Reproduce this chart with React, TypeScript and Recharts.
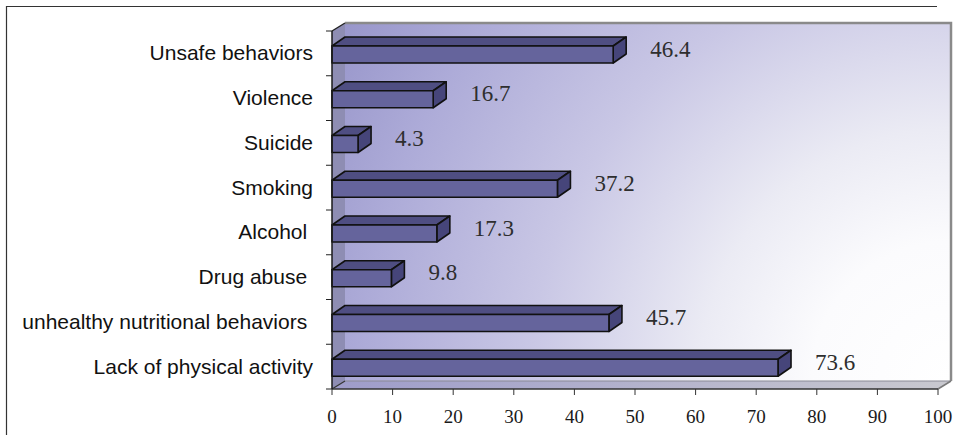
import React from "react";
import { BarChart, Bar, XAxis, YAxis, LabelList } from "recharts";

// Share of respondents per risk behaviour (%)
const categories = [
  "Unsafe behaviors",
  "Violence",
  "Suicide",
  "Smoking",
  "Alcohol ",
  "Drug abuse ",
  "unhealthy nutritional behaviors ",
  "Lack of physical activity",
];
const percentages = [46.4, 16.7, 4.3, 37.2, 17.3, 9.8, 45.7, 73.6];
const xTicks = [0, 10, 20, 30, 40, 50, 60, 70, 80, 90, 100];

const data = categories.map((name, i) => ({ name, value: percentages[i] }));

const W = 960;
const H = 435;
// plot box of the chart (front plane), derived from the margins below
const MARGIN = { top: 31, right: 22, bottom: 16, left: 0 };
const Y_AXIS_W = 332;
const X_AXIS_H = 30;
const PLOT = {
  left: MARGIN.left + Y_AXIS_W,
  top: MARGIN.top,
  right: W - MARGIN.right,
  bottom: H - MARGIN.bottom - X_AXIS_H,
};
const WALL = { dx: 13, dy: 8 };
const BAR_DEPTH = { dx: 13, dy: 9 };

const SANS = "'Liberation Sans', Arial, sans-serif";
const SERIF = "'Liberation Serif', 'Times New Roman', serif";

const Bar3D = (props: any) => {
  const { x, y, width, height } = props;
  if (!width || width <= 0) return null;
  const { dx, dy } = BAR_DEPTH;
  const top = y + 1;
  const x2 = x + width;
  return (
    <g stroke="#111" strokeWidth={1.6} strokeLinejoin="round">
      <polygon
        points={`${x},${top} ${x + dx},${top - dy} ${x2 + dx},${top - dy} ${x2},${top}`}
        fill="#4f4e82"
      />
      <polygon
        points={`${x2},${top} ${x2 + dx},${top - dy} ${x2 + dx},${top + height - dy} ${x2},${top + height}`}
        fill="#46457a"
      />
      <rect x={x} y={top} width={width} height={height} fill="#65649c" />
    </g>
  );
};

const ValueLabel = (props: any) => {
  const { x, y, width, height, value } = props;
  return (
    <text
      x={x + width + 37}
      y={y + height / 2 + 3}
      fontFamily={SERIF}
      fontSize={23}
      fill="#2e2e2e"
      textAnchor="start"
    >
      {value}
    </text>
  );
};

const CategoryTick = (props: any) => {
  const { y, payload, index } = props;
  const band = (PLOT.bottom - PLOT.top) / categories.length;
  const last = index === categories.length - 1;
  return (
    <g>
      <line x1={PLOT.left - 6} x2={PLOT.left} y1={y - band / 2} y2={y - band / 2} stroke="#222" />
      {last && (
        <line x1={PLOT.left - 6} x2={PLOT.left} y1={y + band / 2} y2={y + band / 2} stroke="#222" />
      )}
      <text
        x={PLOT.left - 19}
        y={y + 7}
        textAnchor="end"
        fontFamily={SANS}
        fontSize={21}
        fill="#111"
        style={{ whiteSpace: "pre" }}
      >
        {payload.value}
      </text>
    </g>
  );
};

const ValueTick = (props: any) => {
  const { x, payload } = props;
  return (
    <text x={x} y={PLOT.bottom + 34} textAnchor="middle" fontFamily={SERIF} fontSize={19} fill="#1a1a1a">
      {payload.value}
    </text>
  );
};

// walls, floor and frame behind the bars
const Backdrop = () => {
  const { left, top, right, bottom } = PLOT;
  const { dx, dy } = WALL;
  const bl = left + dx;
  const bt = top - dy;
  const br = right + dx;
  const bb = bottom - dy;
  return (
    <svg width={W} height={H} style={{ position: "absolute", left: 0, top: 0 }}>
      <defs>
        <radialGradient id="wallFill" gradientUnits="userSpaceOnUse" cx={br} cy={bb} r={700}>
          <stop offset="0" stopColor="#ffffff" />
          <stop offset="0.2" stopColor="#fbfbfd" />
          <stop offset="0.36" stopColor="#ebebf4" />
          <stop offset="0.6" stopColor="#c9c7e5" />
          <stop offset="0.84" stopColor="#adabd8" />
          <stop offset="1" stopColor="#9997cb" />
        </radialGradient>
        <linearGradient id="floorFill" x1="0" y1="0" x2="1" y2="0">
          <stop offset="0" stopColor="#9e9cca" />
          <stop offset="1" stopColor="#c9c9cf" />
        </linearGradient>
      </defs>
      <line x1={6.5} y1={6} x2={6.5} y2={H} stroke="#333" strokeWidth={1.2} />
      <line x1={6} y1={6.5} x2={937} y2={6.5} stroke="#333" strokeWidth={1.2} />

      <rect x={bl} y={bt} width={br - bl} height={bb - bt} fill="url(#wallFill)" />
      <polyline points={`${bl},${bt} ${br},${bt} ${br},${bb}`} fill="none" stroke="#8a8a8a" strokeWidth={2.5} />

      <polygon points={`${left},${top} ${bl},${bt} ${bl},${bb} ${left},${bottom}`} fill="#8e8db3" />
      <line x1={left} y1={top} x2={bl} y2={bt} stroke="#222" strokeWidth={1.4} />

      <polygon points={`${left},${bottom} ${bl},${bb} ${br},${bb} ${right},${bottom}`} fill="url(#floorFill)" />
      <line x1={bl} y1={bb} x2={br} y2={bb} stroke="#8a8a95" strokeWidth={1} />
      <line x1={left} y1={bottom} x2={bl} y2={bb} stroke="#333" strokeWidth={1.2} />
      <line x1={right} y1={bottom} x2={br} y2={bb} stroke="#7a7a7a" strokeWidth={1.5} />
    </svg>
  );
};

export default function App() {
  return (
    <div style={{ position: "relative", width: W, height: H, background: "#fff" }}>
      <style>{"body{margin:0}"}</style>
      <Backdrop />
      <div style={{ position: "absolute", left: 0, top: 0 }}>
        <BarChart width={W} height={H} data={data} layout="vertical" margin={MARGIN} barCategoryGap={0}>
          <XAxis
            type="number"
            domain={[0, 100]}
            ticks={xTicks}
            interval={0}
            height={X_AXIS_H}
            tickSize={6}
            tickLine={{ stroke: "#333" }}
            axisLine={{ stroke: "#333", strokeWidth: 1.5 }}
            tick={<ValueTick />}
          />
          <YAxis
            type="category"
            dataKey="name"
            width={Y_AXIS_W}
            interval={0}
            tickLine={false}
            axisLine={{ stroke: "#1a1a1a", strokeWidth: 1.5 }}
            tick={<CategoryTick />}
          />
          <Bar dataKey="value" barSize={17} shape={<Bar3D />} isAnimationActive={false}>
            <LabelList dataKey="value" content={<ValueLabel />} />
          </Bar>
        </BarChart>
      </div>
    </div>
  );
}
